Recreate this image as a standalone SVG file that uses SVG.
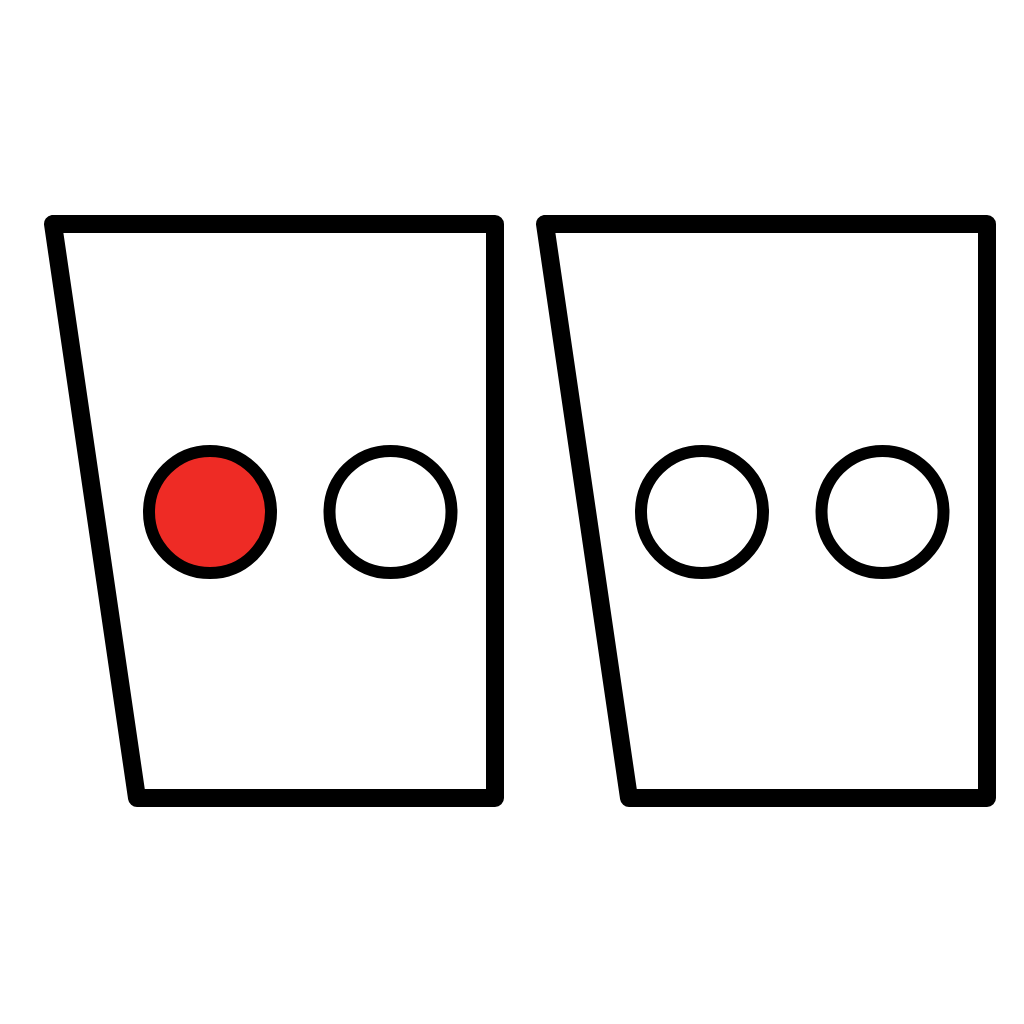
<svg xmlns="http://www.w3.org/2000/svg" width="1024" height="1024" viewBox="0 0 1024 1024">
<style>
.frame{fill:#fff;stroke:#000;stroke-width:18;stroke-linejoin:round}
.dot{fill:#fff;stroke:#000;stroke-width:12}
.on{fill:#ee2b25}
</style>
<rect width="1024" height="1024" fill="#fff"/>
<g id="panel-left">
<polygon class="frame" points="53,224 495,224 495,798 137,798"/>
<circle class="dot on" cx="210" cy="512" r="61"/>
<circle class="dot" cx="390.5" cy="512" r="61"/>
</g>
<g id="panel-right">
<polygon class="frame" points="545,224 987,224 987,798 629,798"/>
<circle class="dot" cx="702" cy="512" r="61"/>
<circle class="dot" cx="882.5" cy="512" r="61"/>
</g>
</svg>
